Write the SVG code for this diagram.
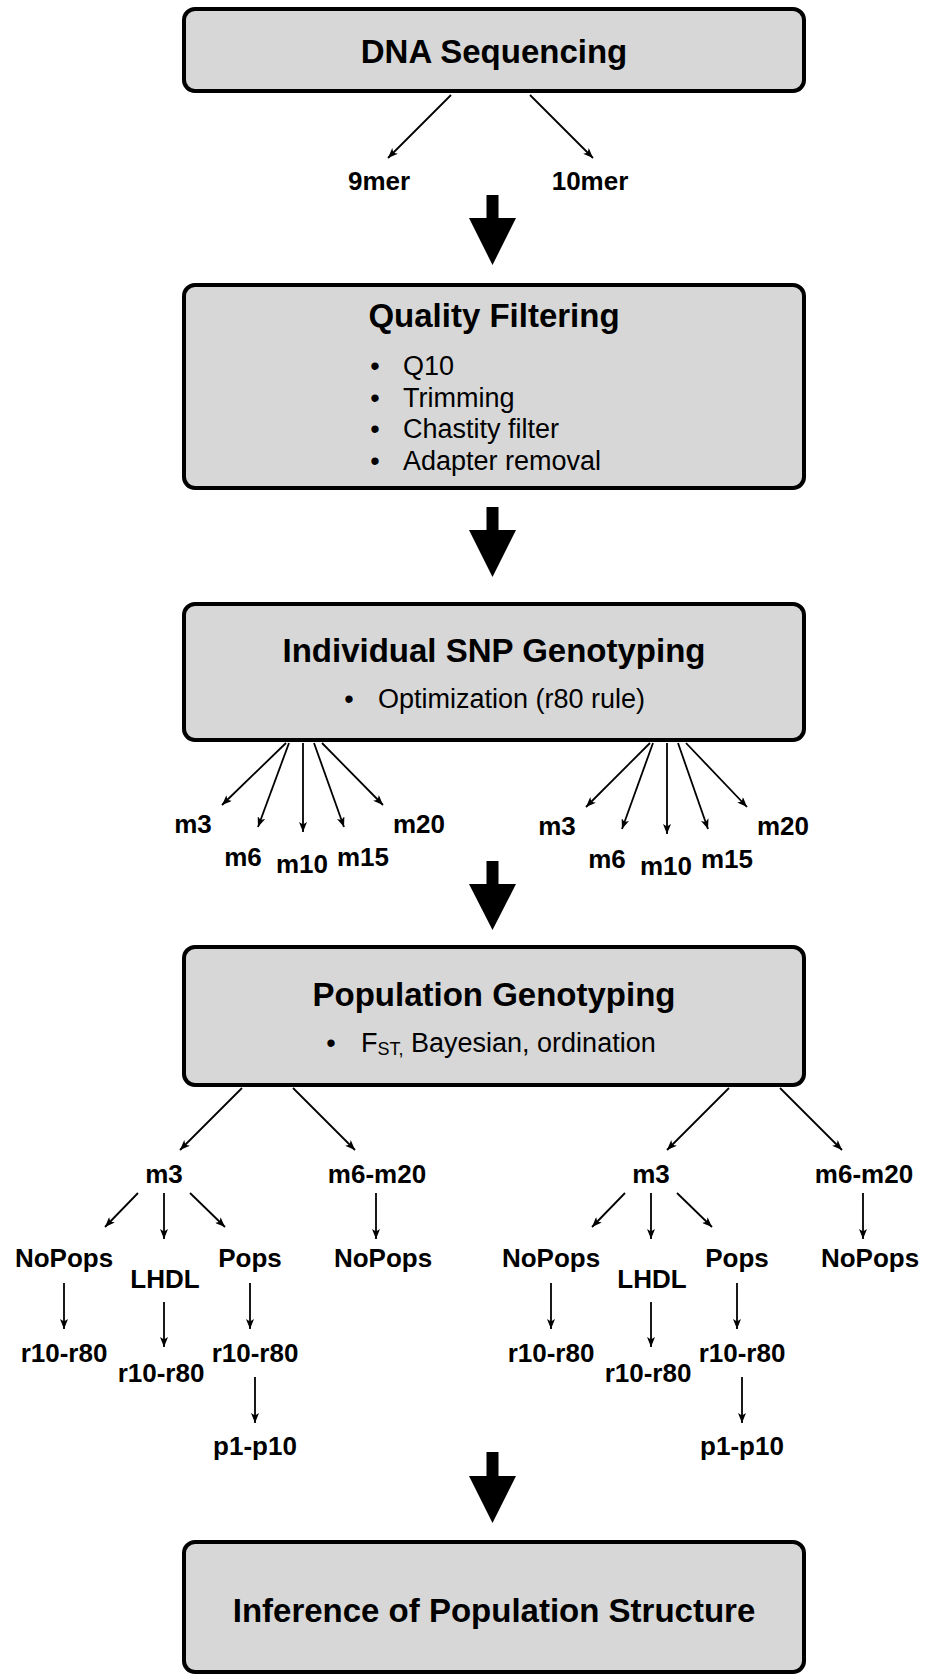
<svg xmlns="http://www.w3.org/2000/svg" width="930" height="1678" viewBox="0 0 930 1678">
<style>
.box{fill:#d7d7d7;stroke:#000;stroke-width:4}
.title{font-family:"Liberation Sans",Arial,sans-serif;font-weight:bold;font-size:33px;text-anchor:middle;fill:#000}
.lbl{font-family:"Liberation Sans",Arial,sans-serif;font-weight:bold;font-size:26px;text-anchor:middle;fill:#000}
.bt{font-family:"Liberation Sans",Arial,sans-serif;font-size:27px;fill:#000}
.dot{font-family:"Liberation Sans",Arial,sans-serif;font-size:27px;text-anchor:middle;fill:#000}
.ln{stroke:#000;stroke-width:1.8;fill:none;marker-end:url(#ah)}
.big{fill:#000}
</style>
<defs>
<marker id="ah" viewBox="0 0 10 8" refX="10" refY="4" markerWidth="10" markerHeight="8" markerUnits="userSpaceOnUse" orient="auto">
<path d="M0,0 L10,4 L0,8 L2.5,4 z" fill="#000"/>
</marker>
</defs>
<rect width="930" height="1678" fill="#fff"/>

<g id="dna-seq">
<rect class="box" x="184" y="9" width="620" height="82" rx="11"/>
<text class="title" x="494" y="63">DNA Sequencing</text>
</g>
<g id="n-9mer"><text class="lbl" x="379" y="190">9mer</text></g>
<g id="n-10mer"><text class="lbl" x="590" y="190">10mer</text></g>

<g id="quality">
<rect class="box" x="184" y="285" width="620" height="203" rx="11"/>
<text class="title" x="494" y="327">Quality Filtering</text>
<text class="dot" x="375" y="375">•</text><text class="bt" x="403" y="375">Q10</text>
<text class="dot" x="375" y="407">•</text><text class="bt" x="403" y="407">Trimming</text>
<text class="dot" x="375" y="438">•</text><text class="bt" x="403" y="438">Chastity filter</text>
<text class="dot" x="375" y="470">•</text><text class="bt" x="403" y="470">Adapter removal</text>
</g>

<g id="snp">
<rect class="box" x="184" y="604" width="620" height="136" rx="11"/>
<text class="title" x="494" y="662">Individual SNP Genotyping</text>
<text class="dot" x="349" y="708">•</text><text class="bt" x="378" y="708">Optimization (r80 rule)</text>
</g>
<g id="L-m3"><text class="lbl" x="193" y="833">m3</text></g>
<g id="L-m6"><text class="lbl" x="243" y="866">m6</text></g>
<g id="L-m10"><text class="lbl" x="302" y="873">m10</text></g>
<g id="L-m15"><text class="lbl" x="363" y="866">m15</text></g>
<g id="L-m20"><text class="lbl" x="419" y="833">m20</text></g>
<g id="R-m3"><text class="lbl" x="557" y="835">m3</text></g>
<g id="R-m6"><text class="lbl" x="607" y="868">m6</text></g>
<g id="R-m10"><text class="lbl" x="666" y="875">m10</text></g>
<g id="R-m15"><text class="lbl" x="727" y="868">m15</text></g>
<g id="R-m20"><text class="lbl" x="783" y="835">m20</text></g>

<g id="popgen">
<rect class="box" x="184" y="947" width="620" height="138" rx="11"/>
<text class="title" x="494" y="1006">Population Genotyping</text>
<text class="dot" x="331" y="1052">•</text><text class="bt" x="361" y="1052">F<tspan font-size="18" dy="3">ST,</tspan><tspan dy="-3"> Bayesian, ordination</tspan></text>
</g>

<g id="L-pm3"><text class="lbl" x="164" y="1183">m3</text></g>
<g id="L-pm620"><text class="lbl" x="377" y="1183">m6-m20</text></g>
<g id="L-nopops"><text class="lbl" x="64" y="1267">NoPops</text></g>
<g id="L-lhdl"><text class="lbl" x="165" y="1288">LHDL</text></g>
<g id="L-pops"><text class="lbl" x="250" y="1267">Pops</text></g>
<g id="L-nopops2"><text class="lbl" x="383" y="1267">NoPops</text></g>
<g id="L-r1"><text class="lbl" x="64" y="1362">r10-r80</text></g>
<g id="L-r2"><text class="lbl" x="161" y="1382">r10-r80</text></g>
<g id="L-r3"><text class="lbl" x="255" y="1362">r10-r80</text></g>
<g id="L-p"><text class="lbl" x="255" y="1455">p1-p10</text></g>

<g id="R-pm3"><text class="lbl" x="651" y="1183">m3</text></g>
<g id="R-pm620"><text class="lbl" x="864" y="1183">m6-m20</text></g>
<g id="R-nopops"><text class="lbl" x="551" y="1267">NoPops</text></g>
<g id="R-lhdl"><text class="lbl" x="652" y="1288">LHDL</text></g>
<g id="R-pops"><text class="lbl" x="737" y="1267">Pops</text></g>
<g id="R-nopops2"><text class="lbl" x="870" y="1267">NoPops</text></g>
<g id="R-r1"><text class="lbl" x="551" y="1362">r10-r80</text></g>
<g id="R-r2"><text class="lbl" x="648" y="1382">r10-r80</text></g>
<g id="R-r3"><text class="lbl" x="742" y="1362">r10-r80</text></g>
<g id="R-p"><text class="lbl" x="742" y="1455">p1-p10</text></g>

<g id="inference">
<rect class="box" x="184" y="1542" width="620" height="130" rx="11"/>
<text class="title" x="494" y="1622">Inference of Population Structure</text>
</g>

<g id="connectors">
<path class="big" d="M486.5,195 h12 v23 h17.5 l-23.5,47 l-23.5,-47 h17.5 z"/>
<path class="big" d="M486.5,507 h12 v23 h17.5 l-23.5,47 l-23.5,-47 h17.5 z"/>
<path class="big" d="M486.5,861 h12 v23 h17.5 l-23.5,46 l-23.5,-46 h17.5 z"/>
<path class="big" d="M486.5,1452 h12 v24 h17.5 l-23.5,47 l-23.5,-47 h17.5 z"/>

<line class="ln" x1="451" y1="95" x2="388" y2="158"/>
<line class="ln" x1="530" y1="95" x2="593" y2="158"/>

<line class="ln" x1="286" y1="743" x2="222" y2="805"/>
<line class="ln" x1="289" y1="743" x2="258" y2="827"/>
<line class="ln" x1="303" y1="743" x2="303" y2="832"/>
<line class="ln" x1="314" y1="743" x2="344" y2="827"/>
<line class="ln" x1="322" y1="743" x2="383" y2="805"/>
<line class="ln" x1="650" y1="743" x2="586" y2="807"/>
<line class="ln" x1="653" y1="743" x2="622" y2="829"/>
<line class="ln" x1="667" y1="743" x2="667" y2="834"/>
<line class="ln" x1="678" y1="743" x2="708" y2="829"/>
<line class="ln" x1="686" y1="743" x2="747" y2="807"/>

<line class="ln" x1="242" y1="1088" x2="180" y2="1150"/>
<line class="ln" x1="293" y1="1088" x2="355" y2="1150"/>
<line class="ln" x1="138" y1="1193" x2="105" y2="1227"/>
<line class="ln" x1="164" y1="1193" x2="164" y2="1239"/>
<line class="ln" x1="190" y1="1193" x2="225" y2="1227"/>
<line class="ln" x1="376" y1="1193" x2="376" y2="1239"/>
<line class="ln" x1="64" y1="1283" x2="64" y2="1329"/>
<line class="ln" x1="164" y1="1302" x2="164" y2="1347"/>
<line class="ln" x1="250" y1="1283" x2="250" y2="1329"/>
<line class="ln" x1="255" y1="1377" x2="255" y2="1423"/>

<line class="ln" x1="729" y1="1088" x2="667" y2="1150"/>
<line class="ln" x1="780" y1="1088" x2="842" y2="1150"/>
<line class="ln" x1="625" y1="1193" x2="592" y2="1227"/>
<line class="ln" x1="651" y1="1193" x2="651" y2="1239"/>
<line class="ln" x1="677" y1="1193" x2="712" y2="1227"/>
<line class="ln" x1="863" y1="1193" x2="863" y2="1239"/>
<line class="ln" x1="551" y1="1283" x2="551" y2="1329"/>
<line class="ln" x1="651" y1="1302" x2="651" y2="1347"/>
<line class="ln" x1="737" y1="1283" x2="737" y2="1329"/>
<line class="ln" x1="742" y1="1377" x2="742" y2="1423"/>
</g>
</svg>
